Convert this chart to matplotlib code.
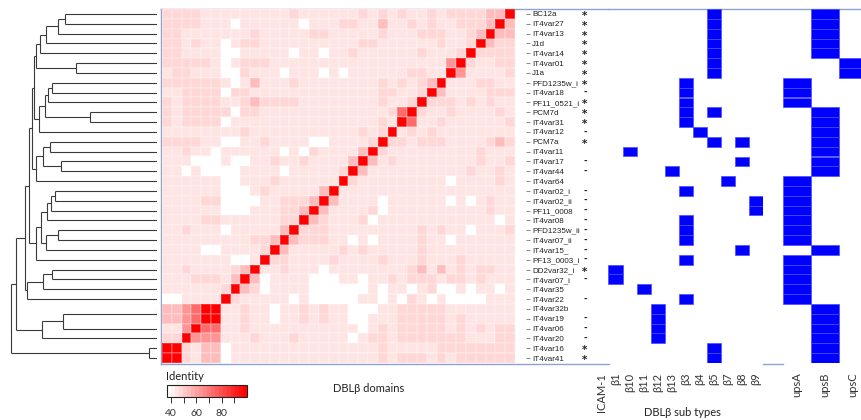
import matplotlib
matplotlib.use("Agg")
import matplotlib.pyplot as plt
import numpy as np
from matplotlib.colors import LinearSegmentedColormap, Normalize

W, H = 862, 420

labels = ["BC12a", "IT4var27", "IT4var13", "J1d", "IT4var14", "IT4var01", "J1a",
          "PFD1235w_i", "IT4var18", "PF11_0521_i", "PCM7d", "IT4var31", "IT4var12",
          "PCM7a", "IT4var11", "IT4var17", "IT4var44", "IT4var64", "IT4var02_i",
          "IT4var02_ii", "PF11_0008", "IT4var08", "PFD1235w_ii", "IT4var07_ii",
          "IT4var15_", "PF13_0003_i", "DD2var32_i", "IT4var07_i", "IT4var35",
          "IT4var22", "IT4var32b", "IT4var19", "IT4var06", "IT4var20", "IT4var16",
          "IT4var41"]

icam_marks = ["*", "*", "*", "*", "*", "*", "*", "*", "-", "*", "*", "*", "-", "*",
              "", "-", "-", "", "-", "-", "-", "-", "-", "-", "-", "-", "*", "-", "",
              "-", "", "-", "-", "-", "*", "*"]

beta_types = ["ICAM-1", "β1", "β10", "β11", "β12", "β13", "β3", "β4", "β5", "β7", "β8", "β9"]
row_betas = [["β5"], ["β5"], ["β5"], ["β5"], ["β5"], ["β5"], ["β5"],
             ["β3"], ["β3"], ["β3"], ["β3", "β5"], ["β3"], ["β4"], ["β5", "β8"],
             ["β10"], ["β8"], ["β13"], ["β7"], ["β3"], ["β9"], ["β9"], ["β3"],
             ["β3"], ["β3"], ["β8"], ["β3"], ["β1"], ["β1"], ["β11"], ["β3"],
             ["β12"], ["β12"], ["β12"], ["β12"], ["β5"], ["β5"]]

ups_types = ["upsA", "upsB", "upsC"]
row_ups = ["upsB", "upsB", "upsB", "upsB", "upsB", "upsC", "upsC",
           "upsA", "upsA", "upsA", "upsB", "upsB", "upsB", "upsB", "upsB", "upsB",
           "upsB", "upsA", "upsA", "upsA", "upsA", "upsA", "upsA", "upsA", "upsB",
           "upsA", "upsA", "upsA", "upsA", "upsA", "upsB", "upsB", "upsB", "upsB",
           "upsB", "upsB"]

# identity levels (per row, columns left of the diagonal, left to right)
level_values = {"0": 38, "1": 45, "2": 49, "3": 55, "4": 63, "5": 72, "6": 84, "8": 95, "9": 100}
identity_left = [
    "22221111111112111111212121121222233",
    "2222111011111101112211311212112223",
    "221111111211111221111121112221123",
    "22121101221111111111221111112112",
    "2211110011111011011211111121112",
    "222221012221111111111111111114",
    "12211100211101110101111112211",
    "2222221013111211111111212123",
    "112222022111111111111122112",
    "21222211232222111111112112",
    "2122222022111111111111125",
    "212222011111111111111121",
    "11111111211111111111212",
    "2222110011211110011112",
    "112110111111010211113",
    "11100010011211211113",
    "1101000011110111112",
    "111111001112111111",
    "11111100012111113",
    "1111220000112223",
    "111111000111223",
    "11112211111122",
    "1121110111113",
    "111111111223",
    "11110011112",
    "1111111001",
    "112111123",
    "11122213",
    "1111112",
    "001111",
    "33459",
    "3345",
    "114",
    "22",
    "9",
    "",
]

# dendrogram: [left, right, merge height]
dendro_tree = [
    [
        [
            [
                [
                    [[[[[0, 1, 92], 2, 99], 3, 111], 4, 117], [5, 6, 81], 121],
                    [[[[7, 8, 105], 9, 109], [10, 11, 67], 112], 12, 118],
                    123,
                ],
                [[[13, 14, 107], [15, 16, 96], 114], 17, 121],
                125,
            ],
            [[[[[18, 19, 102], 20, 106], 21, 110], [[22, 23, 99], 24, 111], 116], 25, 121],
            128,
        ],
        [[[26, 27, 105], 28, 114], 29, 130],
        132,
    ],
    [[[30, 31, 0.4], 32, 94], 33, 115],
    141,
], [34, 35, 8], 146

n = len(labels)

fig = plt.figure(figsize=(W / 100, H / 100), dpi=100)


def px_axes(x0, y0, x1, y1, **kw):
    return fig.add_axes([x0 / W, 1 - y1 / H, (x1 - x0) / W, (y1 - y0) / H], **kw)


def fig_text(x, y, s, **kw):
    fig.text(x / W, 1 - y / H, s, **kw)


calibri = ["Lato", "Open Sans", "DejaVu Sans"]
frame_col = "#8ea4cc"
top, bottom = 9, 363

# frame lines
bg1 = px_axes(161, top, 609, bottom + 1)
bg2 = px_axes(609, top, 870, bottom + 1)
bg3 = px_axes(763, top, 783, bottom + 1)
for a, vis in ((bg1, ("left", "top", "bottom")), (bg2, ("top",)), (bg3, ("bottom",))):
    a.set_xticks([]); a.set_yticks([])
    a.patch.set_alpha(0)
    for k, sp in a.spines.items():
        sp.set_visible(k in vis)
        sp.set_color(frame_col)
        sp.set_linewidth(1.0)

# identity matrix
S = np.full((n, n), 100.0)
for i, s in enumerate(identity_left):
    for c, ch in enumerate(s):
        j = n - 1 - c
        S[i, j] = S[j, i] = level_values[ch]
D = S[:, ::-1]

cmap = LinearSegmentedColormap.from_list("identity", ["#ffffff", "#ff0000"], N=20)
norm = Normalize(vmin=37, vmax=100)

axh = px_axes(162, top, 515, bottom)
mesh = axh.pcolormesh(D, cmap=cmap, norm=norm, edgecolors=(1, 1, 1, 0.18), linewidth=0.3)
axh.set_xlim(0, n); axh.set_ylim(n, 0)
axh.set_xticks([]); axh.set_yticks([])
for sp in axh.spines.values():
    sp.set_visible(False)

# dendrogram
axd = px_axes(10, top, 157.5, bottom)
axd.set_xlim(147, 0); axd.set_ylim(n, 0)
axd.axis("off")
dcol = "#3a3a3a"


def draw(node):
    if isinstance(node, int):
        return node + 0.5, 0.0
    l, r, h = node
    yl, hl = draw(l)
    yr, hr = draw(r)
    axd.plot([hl, h], [yl, yl], color=dcol, lw=0.8, solid_capstyle="butt")
    axd.plot([hr, h], [yr, yr], color=dcol, lw=0.8, solid_capstyle="butt")
    axd.plot([h, h], [yl, yr], color=dcol, lw=0.8, solid_capstyle="butt")
    return (yl + yr) / 2, h


draw(list(dendro_tree))

# row labels
axl = px_axes(500, top, 526.5, bottom)
axl.set_ylim(n, 0); axl.set_xlim(0, 1)
axl.patch.set_alpha(0)
for sp in axl.spines.values():
    sp.set_visible(False)
axl.set_xticks([])
axl.yaxis.tick_right()
axl.set_yticks(np.arange(n) + 0.5)
axl.set_yticklabels(labels, fontsize=5.8, family=["Liberation Sans", "DejaVu Sans"], color="#222222")
axl.tick_params(axis="y", length=3, width=0.6, color="#777777", pad=1)

# ICAM-1 marks
axm = px_axes(579, top, 591, bottom)
axm.set_ylim(n, 0); axm.set_xlim(0, 1)
axm.axis("off")
for r, m in enumerate(icam_marks):
    if m == "*":
        axm.text(0.5, r + 0.5, r"$\mathbf{*}$", ha="center", va="center", fontsize=7.5,
                 color="#222222")
    elif m == "-":
        axm.text(0.5, r + 0.5, "-", ha="center", va="center", fontsize=6, fontweight="bold",
                 color="#222222")


def cell_panel(ax, rows_cols, ncols, names):
    rr = [rc[0] for rc in rows_cols]
    cc = [rc[1] for rc in rows_cols]
    ax.barh(rr, width=1, left=cc, height=1, align="edge", color="#0000ff",
            edgecolor="#4a4aff", linewidth=0.5)
    ax.set_xlim(0, ncols); ax.set_ylim(n, 0)
    ax.patch.set_alpha(0)
    for sp in ax.spines.values():
        sp.set_visible(False)
    ax.set_yticks([])
    ax.set_xticks(np.arange(ncols) + 0.5)
    ax.set_xticklabels(names, rotation=90, fontsize=8, family=calibri, color="#333333", va="top")
    ax.tick_params(axis="x", length=0, pad=7)


# beta subtype panel
beta_cells = [(r, beta_types.index(b)) for r, bl in enumerate(row_betas) for b in bl]
axb = px_axes(594.4, top, 763.2, bottom)
cell_panel(axb, beta_cells, len(beta_types), beta_types)

# ups panel
ups_cells = [(r, ups_types.index(u)) for r, u in enumerate(row_ups)]
axu = px_axes(783, top, 867, bottom)
cell_panel(axu, ups_cells, len(ups_types), ups_types)

# colour key
cax = px_axes(167, 385, 247, 397)
cb = fig.colorbar(mesh, cax=cax, orientation="horizontal", ticks=[40, 50, 60, 70, 80, 90])
cb.set_ticklabels(["40", "", "60", "", "80", ""])
cb.outline.set_linewidth(0.8)
cb.outline.set_edgecolor("#222222")
cax.tick_params(length=4, width=0.7, color="#333333", labelsize=7.5, pad=5, labelcolor="#333333")
for t in cax.get_xticklabels():
    t.set_family(calibri)

fig_text(166, 377, "Identity", fontsize=8, family=calibri, color="#222222", ha="left", va="center")
fig_text(369, 388, "DBLβ domains", fontsize=8, family=calibri, color="#222222", ha="center", va="center")
fig_text(682, 413, "DBLβ sub types", fontsize=8, family=calibri, color="#222222", ha="center", va="center")

fig.savefig("out.png", dpi=100)
